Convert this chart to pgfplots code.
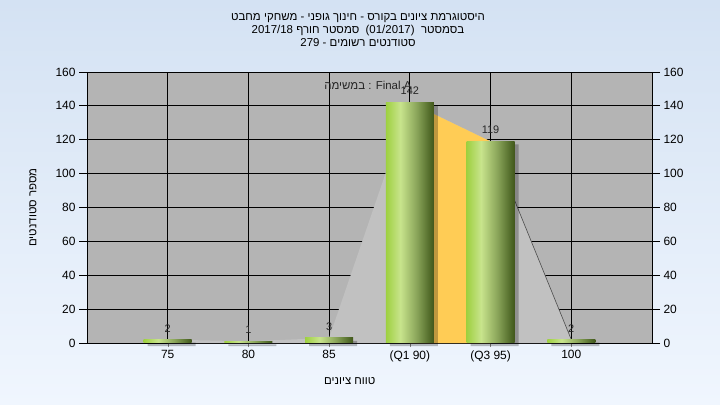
\documentclass[border=0pt]{standalone}
\usepackage{pgfplots}
\pgfplotsset{compat=1.18}
\usepackage{fontspec}
\setmainfont{Liberation Sans}
\newfontfamily\hebfont[Script=Hebrew]{Liberation Sans}
\TeXXeTstate=1
\definecolor{bgtop}{RGB}{212,226,243}
\definecolor{bgbot}{RGB}{240,246,254}
\definecolor{plotbg}{RGB}{180,180,180}
\definecolor{areagray}{RGB}{193,193,193}
\definecolor{qorange}{RGB}{255,204,85}
\definecolor{ga}{RGB}{158,208,64}
\definecolor{gb}{RGB}{200,228,140}
\definecolor{gc}{RGB}{138,165,90}
\definecolor{gd}{RGB}{75,100,36}
\definecolor{ge}{RGB}{66,86,28}
\pgfdeclarehorizontalshading{barshade}{100bp}{color(0bp)=(ga); color(25bp)=(ga); color(40bp)=(gb); color(57bp)=(gc); color(72bp)=(gd); color(75bp)=(ge); color(100bp)=(ge)}
\newcommand{\tfont}{\fontsize{12}{13}\selectfont}
\pgfplotsset{
  gbar/.style={ybar, bar width=48bp, draw=none, shade, shading=barshade,
    nodes near coords,
    nodes near coords style={font=\fontsize{11}{12}\selectfont, text=black!85, anchor=south, yshift=4bp}},
  sbar/.style={ybar, bar width=48bp, bar shift=4bp, yshift=-3bp, fill=black, fill opacity=0.25, draw=none},
}
\begin{document}
\begin{tikzpicture}
\shade[top color=bgtop, bottom color=bgbot] (0,0) rectangle (720bp,405bp);
\useasboundingbox (0,0) rectangle (720bp,405bp);
\node[align=center, font=\hebfont\fontsize{11.5}{13}\selectfont] at (358bp,375bp)
 {\beginR היסטוגרמת ציונים בקורס - חינוך גופני - משחקי מחבט\endR\\
  \beginR בסמסטר \ \beginL(01/2017)\endL{} \ סמסטר חורף 2017/18\endR\\
  \beginR סטודנטים רשומים - 279\endR};
\begin{axis}[
  at={(87bp,62bp)}, anchor=south west, scale only axis,
  width=565bp, height=271bp,
  xmin=0, xmax=7, ymin=0, ymax=160,
  clip=false,
  /pgf/number format/assume math mode=true,
  axis background/.style={fill=plotbg},
  xtick={1,2,3,4,5,6},
  xtick pos=left,
  xticklabels={75,80,85,(Q1 90),(Q3 95),100},
  xticklabel style={font=\tfont, text=black},
  ytick={0,20,...,160}, yticklabels={},
  ytick style={draw=none},
  tick align=outside, major tick length=4bp,
  xmajorgrids, ymajorgrids,
  grid style={black, line width=0.75bp},
  axis line style={black, line width=0.75bp},
  xlabel={\hebfont\beginR טווח ציונים\endR},
  xlabel style={at={(axis description cs:0.465,-0.14)}, anchor=center, font=\fontsize{11.5}{12}\selectfont},
  ylabel={\hebfont\beginR מספר סטודנטים\endR},
  ylabel style={at={(axis description cs:-0.0955,0.5)}, anchor=center, font=\fontsize{11.5}{12}\selectfont},
]
\addplot[fill=areagray, draw=none] coordinates {(1,2) (2,1) (3,3) (4,142) (5,119) (6,2)} \closedcycle;
\addplot[fill=qorange, draw=none] coordinates {(4,142) (5,119)} \closedcycle;
\addplot[color=black!70, line width=0.6bp] coordinates {(5,119) (6,2)};
\addplot[sbar] coordinates {(1,2) (2,1) (3,3) (4,142) (5,119) (6,2)};
\addplot[gbar] coordinates {(1,2)};
\addplot[gbar] coordinates {(2,1)};
\addplot[gbar] coordinates {(3,3)};
\addplot[gbar] coordinates {(4,142)};
\addplot[gbar] coordinates {(5,119)};
\addplot[gbar] coordinates {(6,2)};
\node[font=\fontsize{11.5}{12}\selectfont, text=black!85] at (axis cs:3.48,152.3) {\hebfont\beginR במשימה\endR\ : Final A};
\end{axis}
\begin{axis}[
  at={(87bp,62bp)}, anchor=south west, scale only axis,
  width=565bp, height=271bp,
  xmin=0, xmax=7, ymin=0, ymax=160,
  axis x line=none, axis y line*=left,
  ytick={0,20,...,160},
  tick align=outside, major tick length=8bp,
  axis line style={black, line width=0.75bp},
  tick style={black, line width=0.75bp},
  /pgf/number format/assume math mode=true,
  yticklabel style={font=\tfont, text=black},
]
\addplot[draw=none] coordinates {(0,0)};
\end{axis}
\begin{axis}[
  at={(87bp,62bp)}, anchor=south west, scale only axis,
  width=565bp, height=271bp,
  xmin=0, xmax=7, ymin=0, ymax=160,
  axis x line=none, axis y line*=right,
  ytick={0,20,...,160},
  tick align=outside, major tick length=8bp,
  axis line style={black, line width=0.75bp},
  tick style={black, line width=0.75bp},
  /pgf/number format/assume math mode=true,
  yticklabel style={font=\tfont, text=black},
]
\addplot[draw=none] coordinates {(0,0)};
\end{axis}
\end{tikzpicture}
\end{document}
